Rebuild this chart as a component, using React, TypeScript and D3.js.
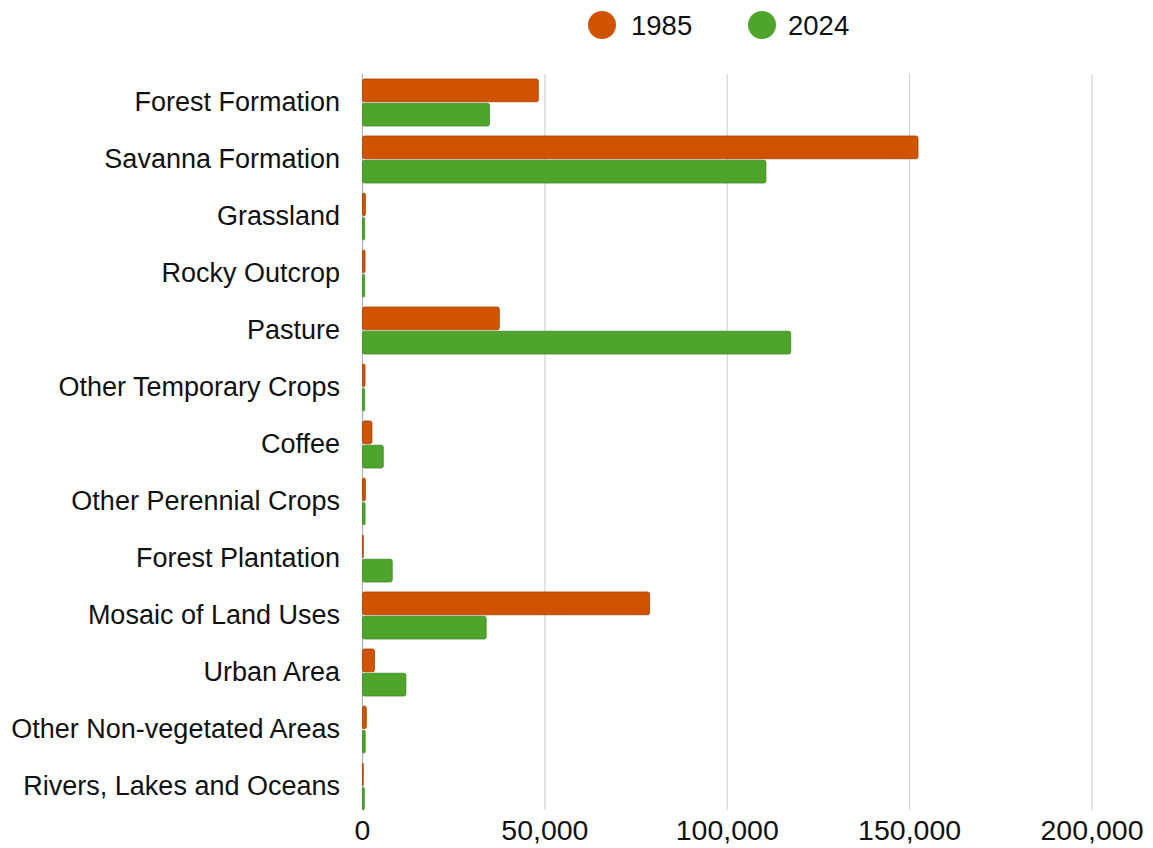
import * as React from 'react';
import { scaleLinear, scaleBand, format } from 'd3';

const categories = [
  'Forest Formation',
  'Savanna Formation',
  'Grassland',
  'Rocky Outcrop',
  'Pasture',
  'Other Temporary Crops',
  'Coffee',
  'Other Perennial Crops',
  'Forest Plantation',
  'Mosaic of Land Uses',
  'Urban Area',
  'Other Non-vegetated Areas',
  'Rivers, Lakes and Oceans',
];

const years = ['1985', '2024'];

const values1985 = [48200, 152300, 800, 700, 37500, 700, 2600, 800, 150, 78700, 3300, 1050, 150];
const values2024 = [34800, 110600, 600, 600, 117400, 600, 5700, 700, 8150, 33900, 11900, 750, 500];

const xTicks = [0, 50000, 100000, 150000, 200000];

const colors = { '1985': '#cf5300', '2024': '#4fa52b' };
const strokes = { '1985': '#a84300', '2024': '#3d8a21' };

const W = 1153;
const H = 848;
const FONT = '"Liberation Sans", Arial, sans-serif';

export default function App() {
  const x = scaleLinear().domain([0, 200000]).range([362.5, 1092]);
  const y = scaleBand<string>()
    .domain(categories)
    .range([74, 815])
    .paddingInner(0.175)
    .paddingOuter(0.0875);
  const ySub = scaleBand<string>()
    .domain(years)
    .range([0, y.bandwidth()])
    .paddingInner(0.06);
  const fmt = format(',');

  const series = { '1985': values1985, '2024': values2024 };

  return (
    <svg
      width={W}
      height={H}
      style={{ position: 'absolute', left: 0, top: 0, background: '#fff' }}
      fontFamily={FONT}
    >
      {/* gridlines */}
      {xTicks.map(t => (
        <line
          key={'g' + t}
          x1={x(t)}
          x2={x(t)}
          y1={74}
          y2={810}
          stroke={t === 0 ? '#b0b0b0' : '#d6d6d6'}
          strokeWidth={1.2}
        />
      ))}

      {/* bars */}
      {categories.map((c, i) => (
        <g key={c} transform={`translate(0,${y(c)})`}>
          {years.map(yr => {
            const v = series[yr][i];
            const w = Math.max(x(v) - x(0), 0.8);
            return (
              <rect
                key={yr}
                x={x(0)}
                y={ySub(yr)}
                width={w}
                height={ySub.bandwidth()}
                rx={2}
                fill={colors[yr]}
                stroke={strokes[yr]}
                strokeWidth={0.8}
              />
            );
          })}
        </g>
      ))}

      {/* category labels */}
      {categories.map(c => (
        <text
          key={'l' + c}
          x={340}
          y={(y(c) ?? 0) + y.bandwidth() / 2 - 1}
          textAnchor="end"
          dominantBaseline="central"
          fontSize={27}
          fill="#111"
        >
          {c}
        </text>
      ))}

      {/* x tick labels */}
      {xTicks.map(t => (
        <text
          key={'t' + t}
          x={x(t)}
          y={840}
          textAnchor="middle"
          fontSize={28.5}
          fill="#111"
        >
          {fmt(t)}
        </text>
      ))}

      {/* legend */}
      <g>
        <circle cx={602} cy={25} r={14} fill={colors['1985']} />
        <text x={631} y={35} fontSize={27.5} fill="#111">1985</text>
        <circle cx={762} cy={25} r={14} fill={colors['2024']} />
        <text x={788} y={35} fontSize={27.5} fill="#111">2024</text>
      </g>
    </svg>
  );
}
